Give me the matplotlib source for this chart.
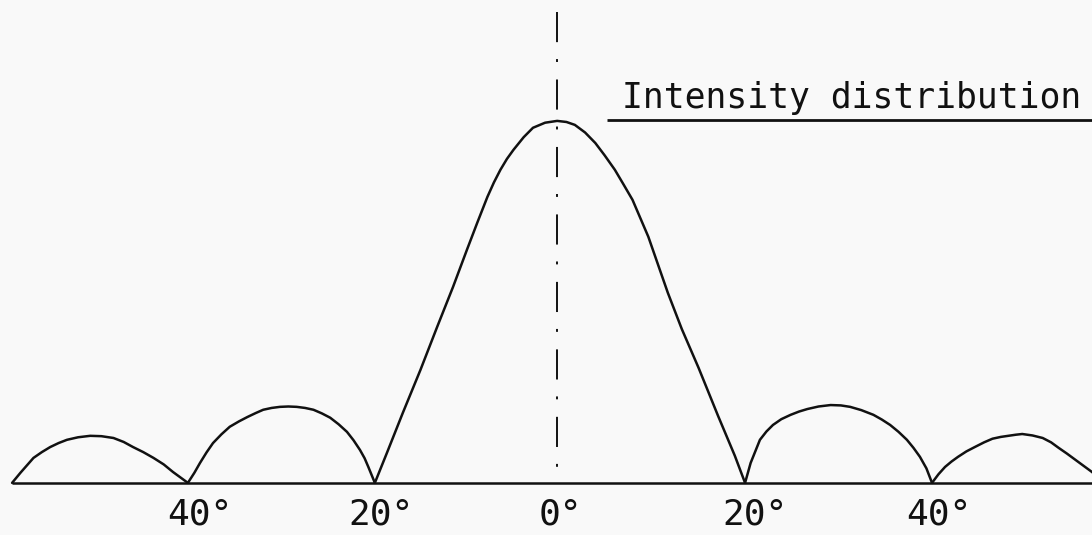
import matplotlib
matplotlib.use("Agg")
import matplotlib.pyplot as plt

# angle (deg) and relative intensity, lobe by lobe
outer_left_deg = [-58.6, -57.7, -56.3, -55.4, -54.5, -53.6, -52.7, -51.5, -50.2, -49.0,
                  -47.7, -46.6, -45.6, -44.5, -43.4, -42.3, -41.3, -39.7]
outer_left_int = [0.0, 0.028, 0.069, 0.085, 0.099, 0.110, 0.119, 0.126, 0.130, 0.129,
                  0.124, 0.113, 0.099, 0.085, 0.069, 0.051, 0.030, 0.0]

inner_left_deg = [-39.7, -39.0, -38.4, -37.7, -37.0, -36.1, -35.2, -34.2, -33.3, -32.4, -31.6,
                  -30.7, -29.8, -28.9, -28.0, -27.1, -26.2, -25.3, -24.4, -23.5, -22.6,
                  -21.9, -21.2, -20.7, -20.3, -19.6]
inner_left_int = [0.0, 0.028, 0.055, 0.084, 0.110, 0.134, 0.155, 0.170, 0.182, 0.193, 0.202,
                  0.207, 0.210, 0.211, 0.210, 0.207, 0.202, 0.192, 0.180, 0.162, 0.141,
                  0.118, 0.091, 0.068, 0.044, 0.0]

main_deg = [-19.6, -18.3, -16.6, -14.7, -12.9, -11.2, -9.7, -8.6, -7.5, -6.8, -6.1, -5.4,
            -4.7, -3.6, -2.6, -1.3, 0.0, 1.0, 1.9, 3.0, 4.1, 5.1, 6.2, 7.1, 8.1, 9.8,
            11.9, 13.4, 15.2, 17.3, 19.1, 20.2]
main_int = [0.0, 0.083, 0.193, 0.312, 0.431, 0.541, 0.644, 0.718, 0.790, 0.830, 0.865, 0.895,
            0.920, 0.955, 0.981, 0.995, 1.0, 0.997, 0.989, 0.968, 0.939, 0.905, 0.865, 0.826,
            0.782, 0.680, 0.525, 0.425, 0.318, 0.185, 0.075, 0.0]

inner_right_deg = [20.2, 20.8, 21.8, 22.5, 23.2, 24.1, 25.1, 26.0, 26.9, 28.1, 29.4, 30.5,
                   31.5, 32.7, 34.0, 34.9, 35.8, 36.7, 37.6, 38.3, 39.0, 39.7, 40.3]
inner_right_int = [0.0, 0.055, 0.119, 0.142, 0.160, 0.176, 0.188, 0.197, 0.204, 0.211, 0.215, 0.214,
                   0.210, 0.201, 0.188, 0.175, 0.160, 0.141, 0.119, 0.097, 0.072, 0.040, 0.0]

outer_right_deg = [40.3, 41.0, 41.7, 42.4, 43.1, 44.0, 44.9, 45.9, 46.8, 47.7, 48.5, 49.3,
                   50.0, 51.1, 52.2, 53.1, 53.9, 54.8, 55.7, 56.6, 57.5, 58.4]
outer_right_int = [0.0, 0.024, 0.044, 0.059, 0.072, 0.087, 0.099, 0.112, 0.122, 0.127, 0.130, 0.133,
                   0.135, 0.131, 0.124, 0.112, 0.097, 0.081, 0.064, 0.047, 0.030, 0.010]

tick_pos = [-38.4, -18.9, 0.3, 21.3, 41.0]
tick_labels = ["40°", "20°", "0°", "20°", "40°"]

title = "Intensity distribution"

FONT = ["DejaVu Sans Mono", "DejaVu Sans"]
INK = "#111111"

fig = plt.figure(figsize=(10.92, 5.35), dpi=100, facecolor="#f9f9f9")
ax = fig.add_axes([0, 0, 1, 1])
ax.set_facecolor("#f9f9f9")
ax.set_xlim(-59.9, 57.5)
ax.set_ylim(-0.144, 1.334)
ax.axis("off")

lobes = [
    (outer_left_deg, outer_left_int),
    (inner_left_deg, inner_left_int),
    (main_deg, main_int),
    (inner_right_deg, inner_right_int),
    (outer_right_deg, outer_right_int),
]
for xs, ys in lobes:
    ax.plot(xs, ys, color=INK, lw=1.8, solid_joinstyle="round", solid_capstyle="round")

# baseline
ax.hlines(0, outer_left_deg[0], ax.get_xlim()[1], color=INK, lw=1.8)

# centre line, dash-dot
ax.plot([0, 0], [1.301, 0], color=INK, lw=1.4,
        linestyle=(0, (15.5, 8.7, 1.5, 9.0)))

# label with underline
ax.text(7.0, 1.036, title, ha="left", va="baseline",
        fontsize=25, family=FONT, color=INK)
ax.hlines(1.003, 5.4, ax.get_xlim()[1], color=INK, lw=2.0)

for x, lab in zip(tick_pos, tick_labels):
    ax.text(x, -0.088, lab, ha="center", va="center",
            fontsize=26, family=FONT, color=INK)

fig.savefig("out.png", dpi=100, facecolor=fig.get_facecolor())
